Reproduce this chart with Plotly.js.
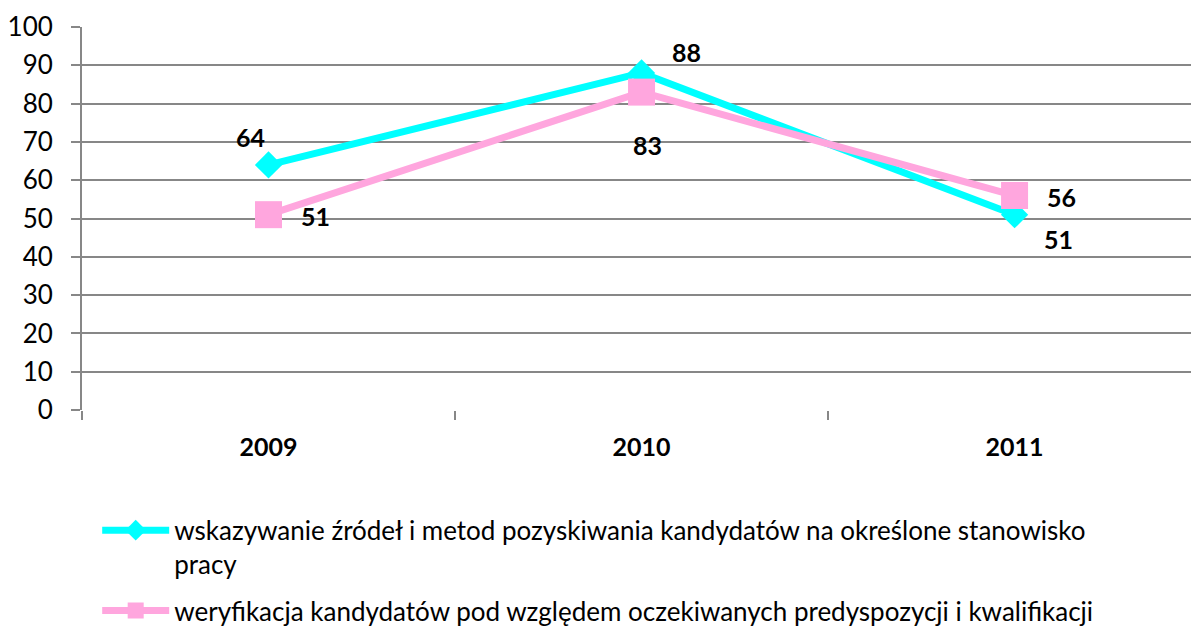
<!DOCTYPE html>
<html>
<head>
<meta charset="utf-8">
<script src="https://cdn.plot.ly/plotly-3.0.1.min.js"></script>
<style>html,body{margin:0;padding:0;background:#fff;}#chart{width:1191px;height:628px;}</style>
</head>
<body>
<div id="chart"></div>
<script>
const years = ["2009", "2010", "2011"];
const seriesNames = [
  "wskazywanie źródeł i metod pozyskiwania kandydatów na określone stanowisko<br>pracy",
  "weryfikacja kandydatów pod względem oczekiwanych predyspozycji i kwalifikacji"
];
const sourcesValues = [64, 88, 51];
const verificationValues = [51, 83, 56];
const yTicks = [0, 10, 20, 30, 40, 50, 60, 70, 80, 90, 100];

// label offsets (style only, px)
const cyanShift = [[-18, 28], [45, 21], [44, -24]];
const pinkShift = [[47, -1], [6, -53], [47, -1]];

const FONT = "Lato, 'Open Sans', sans-serif";
const GRID = "#878787";

const traces = [
  {
    x: years, y: sourcesValues, type: "scatter", mode: "lines+markers",
    name: seriesNames[0], legend: "legend",
    line: {color: "#00FFFF", width: 7},
    marker: {symbol: "diamond", size: 21, color: "#00FFFF"},
    hoverinfo: "skip"
  },
  {
    x: years, y: verificationValues, type: "scatter", mode: "lines+markers",
    name: seriesNames[1], legend: "legend2",
    line: {color: "#FFA6DE", width: 7},
    marker: {symbol: "square", size: 27, color: "#FFA6DE"},
    hoverinfo: "skip"
  }
];

const annotations = [];
years.forEach((yr, i) => {
  annotations.push({x: i, y: sourcesValues[i], xref: "x", yref: "y", text: String(sourcesValues[i]),
    showarrow: false, xshift: cyanShift[i][0], yshift: cyanShift[i][1],
    font: {family: FONT, size: 25, color: "#000", weight: "bold"}});
  annotations.push({x: i, y: verificationValues[i], xref: "x", yref: "y", text: String(verificationValues[i]),
    showarrow: false, xshift: pinkShift[i][0], yshift: pinkShift[i][1],
    font: {family: FONT, size: 25, color: "#000", weight: "bold"}});
});

const legendBase = {
  orientation: "v", xanchor: "left", yanchor: "top", valign: "top",
  xref: "paper", yref: "container",
  itemwidth: 67, bgcolor: "rgba(0,0,0,0)",
  font: {family: FONT, size: 26, color: "#000"}
};

const layout = {
  width: 1191, height: 628,
  margin: {l: 82, r: 0, t: 27, b: 218},
  paper_bgcolor: "#fff", plot_bgcolor: "#fff",
  font: {family: FONT, size: 26, color: "#000"},
  showlegend: true,
  xaxis: {
    type: "category", range: [-0.5, 2.473],
    showgrid: false, zeroline: false,
    showline: false, automargin: false,
    ticks: "outside", tickson: "boundaries", ticklen: 9, tickwidth: 2, tickcolor: GRID,
    ticklabelstandoff: 20,
    tickfont: {family: FONT, size: 25, color: "#000", weight: "bold"}
  },
  yaxis: {
    range: [0, 100], tickvals: yTicks, ticktext: yTicks.map(String),
    showgrid: true, gridcolor: GRID, gridwidth: 2,
    zeroline: false, automargin: false,
    showline: true, linecolor: GRID, linewidth: 2,
    ticks: "outside", ticklen: 9, tickwidth: 2, tickcolor: GRID,
    ticklabelstandoff: 13,
    tickfont: {family: FONT, size: 26, color: "#000"}
  },
  legend: Object.assign({}, legendBase, {x: 0.0137, y: 0.193}),
  legend2: Object.assign({}, legendBase, {x: 0.0137, y: 0.0653}),
  annotations: annotations
};

Plotly.newPlot("chart", traces, layout, {displayModeBar: false, staticPlot: true});
</script>
</body>
</html>
